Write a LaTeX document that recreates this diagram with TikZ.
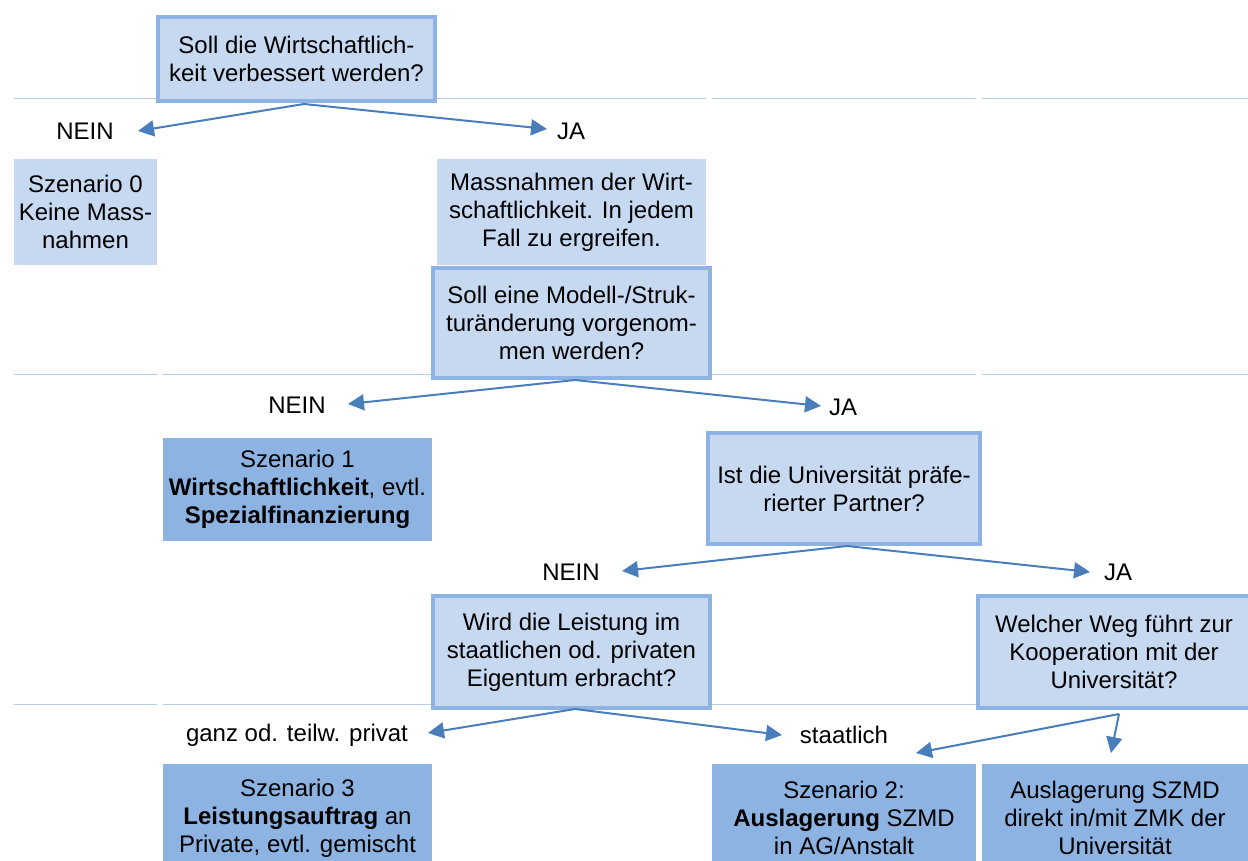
\documentclass[tikz,border=0pt]{standalone}
\usepackage{fontspec}
\setmainfont{Liberation Sans}
\usetikzlibrary{arrows.meta}
\definecolor{lightfill}{HTML}{C6D9F1}
\definecolor{darkfill}{HTML}{8DB3E2}
\definecolor{edgec}{HTML}{8DB3E2}
\definecolor{gridc}{HTML}{B8CCE4}
\definecolor{arrowc}{HTML}{4A7EBB}
\begin{document}
\begin{tikzpicture}[x=1pt,y=-1pt,
  every node/.style={font=\fontsize{24}{28}\selectfont, align=center, inner sep=0pt},
  qbox/.style={fill=lightfill, draw=edgec, line width=3.5pt},
  plainbox/.style={fill=lightfill},
  scenbox/.style={fill=darkfill},
  arr/.style={draw=arrowc, line width=2pt, -{Triangle[length=16pt,width=16pt]}},
  gridline/.style={draw=gridc, line width=1pt}
]
\useasboundingbox (0,0) rectangle (1248,860);
\fill[white] (0,0) rectangle (1248,860);
% grid lines
\foreach \yy in {98,374,704}{
  \draw[gridline] (14,\yy) -- (157,\yy);
  \draw[gridline] (163,\yy) -- (706,\yy);
  \draw[gridline] (712,\yy) -- (976,\yy);
  \draw[gridline] (982,\yy) -- (1248,\yy);
}
% boxes
\node[qbox, minimum width=277pt, minimum height=84pt] (q1) at (296.5,59) {Soll die Wirtschaftlich-\\keit verbessert werden?};
\node[plainbox, minimum width=143pt, minimum height=106pt] (s0) at (85.5,212) {Szenario 0\\Keine Mass-\\nahmen};
\node[plainbox, minimum width=269pt, minimum height=106pt] (mass) at (571.5,212) {Massnahmen der Wirt-\\schaftlichkeit. In jedem\\Fall zu ergreifen.};
\node[qbox, minimum width=277pt, minimum height=110pt] (q2) at (571.5,323) {Soll eine Modell-/Struk-\\turänderung vorgenom-\\men werden?};
\node[scenbox, minimum width=269pt, minimum height=103pt] (s1) at (297.5,489.5) {Szenario 1\\\textbf{Wirtschaftlichkeit}, evtl.\\\textbf{Spezialfinanzierung}};
\node[qbox, minimum width=272pt, minimum height=111pt] (q3) at (844,488.5) {Ist die Universität präfe-\\rierter Partner?};
\node[qbox, minimum width=277pt, minimum height=112pt] (q4) at (571.5,652) {Wird die Leistung im\\staatlichen od. privaten\\Eigentum erbracht?};
\node[qbox, minimum width=272pt, minimum height=112pt] (q5) at (1114,652) {Welcher Weg führt zur\\Kooperation mit der\\Universität?};
\node[scenbox, minimum width=269pt, minimum height=108pt] (s3) at (297.5,818) {Szenario 3\\\textbf{Leistungsauftrag} an\\Private, evtl. gemischt};
\node[scenbox, minimum width=264pt, minimum height=108pt] (s2) at (844,818) {Szenario 2:\\\textbf{Auslagerung} SZMD\\in AG/Anstalt};
\node[scenbox, minimum width=266pt, minimum height=108pt] (s4) at (1115,818) {Auslagerung SZMD\\direkt in/mit ZMK der\\Universität};
% labels
\node (nein1) at (85,131) {NEIN};
\node (ja1) at (571,131) {JA};
\node (nein2) at (297,405) {NEIN};
\node (ja2) at (843,407) {JA};
\node (nein3) at (571,572) {NEIN};
\node (ja3) at (1118,572) {JA};
\node (privat) at (297,735) {ganz od. teilw. privat};
\node (staat) at (844,735) {staatlich};
% connector ends
\coordinate (q1s) at (304,104);
\coordinate (q2s) at (575,380);
\coordinate (q3s) at (847,546);
\coordinate (q4s) at (575,709);
\coordinate (q5s) at (1119,714);
\coordinate (t1) at (138,131);
\coordinate (t2) at (547,129);
\coordinate (t3) at (348,404);
\coordinate (t4) at (821,406);
\coordinate (t5) at (622,571);
\coordinate (t6) at (1090,572);
\coordinate (t7) at (428,733);
\coordinate (t8) at (782,735);
\coordinate (t9) at (916,753);
\coordinate (t10) at (1111,753);
% arrows
\draw[arr] (q1s) -- (t1);
\draw[arr] (q1s) -- (t2);
\draw[arr] (q2s) -- (t3);
\draw[arr] (q2s) -- (t4);
\draw[arr] (q3s) -- (t5);
\draw[arr] (q3s) -- (t6);
\draw[arr] (q4s) -- (t7);
\draw[arr] (q4s) -- (t8);
\draw[arr] (q5s) -- (t9);
\draw[arr] (q5s) -- (t10);
\end{tikzpicture}
\end{document}
